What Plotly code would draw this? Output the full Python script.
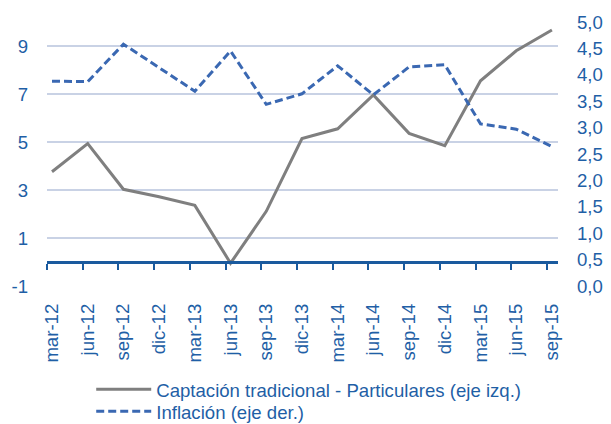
import plotly.graph_objects as go

categories = ["mar-12", "jun-12", "sep-12", "dic-12", "mar-13", "jun-13", "sep-13",
              "dic-13", "mar-14", "jun-14", "sep-14", "dic-14", "mar-15", "jun-15", "sep-15"]
captacion = [3.76, 4.93, 3.03, 2.72, 2.36, -0.05, 2.11, 5.14, 5.55, 6.96, 5.36, 4.85, 7.55, 8.80, 9.67]
inflacion = [3.88, 3.87, 4.58, 4.13, 3.69, 4.45, 3.44, 3.64, 4.17, 3.62, 4.15, 4.19, 3.07, 2.97, 2.64]
left_ticks = [-1, 1, 3, 5, 7, 9]
left_labels = ["-1", "1", "3", "5", "7", "9"]
right_ticks = [0, 0.5, 1.0, 1.5, 2.0, 2.5, 3.0, 3.5, 4.0, 4.5, 5.0]

BLUE_TXT = "#1F5FA6"
AXIS_BLUE = "#1A5A9E"
GRID = "#C9D2E5"
FONT = "Liberation Sans, Arial, sans-serif"
FS = 18.6

n = len(categories)
xs = list(range(n))
xrange_ = [-0.14, n - 1 + 0.17]

fig = go.Figure()
fig.add_trace(go.Scatter(
    x=xs, y=captacion, mode="lines", name="Captación tradicional - Particulares (eje izq.)",
    line=dict(color="#7F7F7F", width=3), yaxis="y", xaxis="x", legend="legend"))
fig.add_trace(go.Scatter(
    x=xs, y=inflacion, mode="lines", name="Inflación (eje der.)",
    line=dict(color="#3A68B2", width=3, dash="8px,4px"), yaxis="y2", xaxis="x",
    legend="legend2"))
# invisible trace to activate the zero-line axis (xaxis2)
fig.add_trace(go.Scatter(x=[xs[0]], y=[0], xaxis="x2", yaxis="y", mode="markers",
                         marker=dict(opacity=0), showlegend=False, hoverinfo="skip"))

legend_common = dict(
    xref="container", yref="container", xanchor="left", yanchor="top",
    orientation="v", font=dict(family=FONT, size=FS, color=BLUE_TXT),
    itemwidth=55, tracegroupgap=0, bgcolor="rgba(0,0,0,0)",
)

fig.update_layout(
    width=603, height=416,
    margin=dict(l=39, r=53, t=14, b=138, autoexpand=False),
    paper_bgcolor="white", plot_bgcolor="white",
    separators=",.",
    font=dict(family=FONT, size=FS, color=BLUE_TXT),
    showlegend=True,
    legend=dict(x=0.138, y=0.128, **legend_common),
    legend2=dict(x=0.138, y=0.128 - 22 / 416, **legend_common),
    xaxis=dict(
        range=xrange_, tickmode="array", tickvals=xs, ticktext=categories,
        tickangle=-90, showgrid=False, zeroline=False, showline=False,
        ticks="", ticklabelstandoff=13, automargin=False,
        tickfont=dict(family=FONT, size=FS, color=BLUE_TXT),
    ),
    xaxis2=dict(
        overlaying="x", anchor="free", position=1 / 11, side="bottom",
        range=xrange_, tickmode="array", tickvals=[v - 0.14 for v in xs],
        showticklabels=False, showgrid=False, zeroline=False,
        showline=True, linecolor=AXIS_BLUE, linewidth=3,
        ticks="outside", ticklen=6, tickwidth=2, tickcolor=AXIS_BLUE,
    ),
    yaxis=dict(
        range=[-1, 10], tickmode="array", tickvals=left_ticks, ticktext=left_labels,
        showgrid=True, gridcolor=GRID, gridwidth=1.5, zeroline=False,
        showline=False, ticks="", ticklabelstandoff=18, automargin=False,
        tickfont=dict(family=FONT, size=FS, color=BLUE_TXT),
    ),
    yaxis2=dict(
        overlaying="y", side="right", range=[0, 5], tickmode="array",
        tickvals=right_ticks, tickformat=".1f", showgrid=False, zeroline=False,
        showline=False, ticks="", ticklabelstandoff=18, automargin=False,
        tickfont=dict(family=FONT, size=FS, color=BLUE_TXT),
    ),
)

fig.write_html("out.html")
